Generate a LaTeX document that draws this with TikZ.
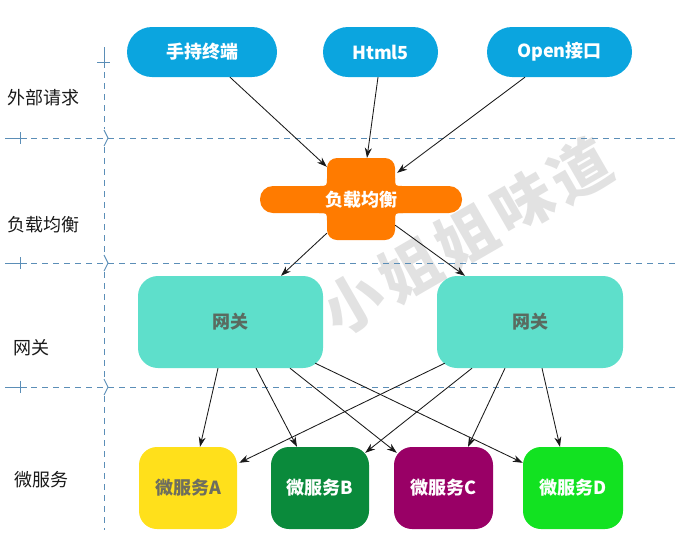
\documentclass[tikz,border=0pt]{standalone}
\usepackage{fontspec}
\setmainfont{Noto Sans CJK SC}
\usetikzlibrary{arrows.meta}
\definecolor{topblue}{HTML}{0BA5DF}
\definecolor{lborange}{HTML}{FF7B00}
\definecolor{gwcol}{HTML}{5EDFCB}
\definecolor{gwtext}{HTML}{5A6B60}
\definecolor{mscolA}{HTML}{FFE01B}
\definecolor{mstextA}{HTML}{6E6E5E}
\definecolor{mscolB}{HTML}{0A8A3B}
\definecolor{mscolC}{HTML}{990066}
\definecolor{mscolD}{HTML}{12E221}
\definecolor{sepcol}{HTML}{5B8EB7}
\definecolor{wmcol}{HTML}{E2E2E2}
\begin{document}
\begin{tikzpicture}[x=1pt,y=-1pt,
  boxfont/.style={font=\fontsize{18}{20}\selectfont\bfseries},
  topbox/.style={boxfont, fill=topblue, text=white, rounded corners=25pt, minimum height=50pt, inner sep=0pt},
  lbpart/.style={boxfont, fill=lborange, text=white, inner sep=0pt},
  gwbox/.style={boxfont, fill=gwcol, text=gwtext, rounded corners=20pt, minimum width=185pt, minimum height=92pt, inner sep=0pt},
  msbox/.style={boxfont, text=white, rounded corners=18pt, minimum width=98pt, minimum height=82pt, inner sep=0pt},
  lbl/.style={font=\fontsize{18}{20}\selectfont, text=black!90, inner sep=0pt},
  arr/.style={-{Stealth[length=10pt,width=7pt]}, line width=0.85pt, black!90},
  sep/.style={draw=sepcol, line width=1pt, dash pattern=on 6pt off 5pt},
  sepsolid/.style={draw=sepcol, line width=1pt},
  wmark/.style={font=\fontsize{60}{62}\selectfont\bfseries, text=wmcol, rotate=30, inner sep=0pt}
]
\useasboundingbox (0,0) rectangle (675,542);

% watermark
\node[wmark] (wm1) at (353,303) {小};
\node[wmark] (wm2) at (409.75,269.75) {姐};
\node[wmark] (wm3) at (466.5,236.5) {姐};
\node[wmark] (wm4) at (523.25,203.25) {味};
\node[wmark] (wm5) at (580,170) {道};

% separators
\draw[sepsolid] (104,47) -- (104,68);
\draw[sepsolid] (97,62) -- (110,62);
\foreach \yy in {138,263,387} {
  \draw[sepsolid] (5,\yy) -- (27,\yy);
  \draw[sepsolid] (20,\yy-6) -- (20,\yy+6);
  \draw[sep] (31,\yy) -- (675,\yy);
  \draw[sepsolid, line width=0.9pt] (104,\yy-8) -- (108,\yy) -- (104,\yy+8);
}
\draw[sep] (104,72) -- (104,129);
\draw[sep] (104,147) -- (104,254);
\draw[sep] (104,272) -- (104,378);
\draw[sep] (104,396) -- (104,530);

% left labels
\node[lbl] (lab1) at (43,98) {外部请求};
\node[lbl] (lab2) at (43,225) {负载均衡};
\node[lbl] (lab3) at (31,348) {网关};
\node[lbl] (lab4) at (41,480) {微服务};

% top boxes
\node[topbox, minimum width=150pt] (t1) at (202,52) {手持终端};
\node[topbox, minimum width=115pt] (t2) at (380.5,52) {Html5};
\node[topbox, minimum width=145pt] (t3) at (559.5,52) {Open接口};

% load balancer
\node[lbpart, rounded corners=10pt, minimum width=68pt, minimum height=82pt] (lb) at (361,199) {};
\node[lbpart, rounded corners=13pt, minimum width=202pt, minimum height=27pt] (lbh) at (361,199.5) {负载均衡};
\fill[lborange] (319,186) .. controls (327,186) .. (327,178) -- (327,186) -- cycle;
\fill[lborange] (403,186) .. controls (395,186) .. (395,178) -- (395,186) -- cycle;
\fill[lborange] (319,213) .. controls (327,213) .. (327,221) -- (327,213) -- cycle;
\fill[lborange] (403,213) .. controls (395,213) .. (395,221) -- (395,213) -- cycle;

% gateways
\node[gwbox] (gwL) at (230.5,322) {网关};
\node[gwbox, minimum width=186pt] (gwR) at (530,322) {网关};

% microservices
\node[msbox, fill=mscolA, text=mstextA] (msA) at (188,488) {微服务A};
\node[msbox, fill=mscolB] (msB) at (320,488) {微服务B};
\node[msbox, fill=mscolC, minimum width=99pt] (msC) at (443.5,488) {微服务C};
\node[msbox, fill=mscolD, minimum width=100pt] (msD) at (573,488) {微服务D};

% arrows
\draw[arr] ([xshift=28pt]t1.south) -- ([yshift=-9pt]lb.north west);
\draw[arr] ([xshift=-2.5pt]t2.south) -- ([xshift=6pt]lb.north);
\draw[arr] ([xshift=-34.5pt]t3.south) -- ([xshift=2pt,yshift=-15pt]lb.north east);
\draw[arr] ([yshift=7pt]lb.south west) -- ([xshift=50.5pt]gwL.north);
\draw[arr] ([yshift=15pt]lb.south east) -- ([xshift=-65pt]gwR.north);

\draw[arr] ([xshift=-12.5pt]gwL.south) -- ([xshift=12pt]msA.north);
\draw[arr] ([xshift=25.5pt]gwL.south) -- ([xshift=-23pt]msB.north);
\draw[arr] ([xshift=59.5pt]gwL.south) -- ([xshift=3pt,yshift=-6pt]msC.north west);
\draw[arr] ([xshift=-8pt,yshift=5pt]gwL.south east) -- ([yshift=-16pt]msD.north west);
\draw[arr] ([xshift=8pt,yshift=5pt]gwR.south west) -- ([xshift=2pt,yshift=-16pt]msA.north east);
\draw[arr] ([xshift=-58pt]gwR.south) -- ([xshift=-4pt,yshift=-6pt]msB.north east);
\draw[arr] ([xshift=-25pt]gwR.south) -- ([xshift=24.5pt]msC.north);
\draw[arr] ([xshift=12pt]gwR.south) -- ([xshift=-13pt]msD.north);
\end{tikzpicture}
\end{document}
